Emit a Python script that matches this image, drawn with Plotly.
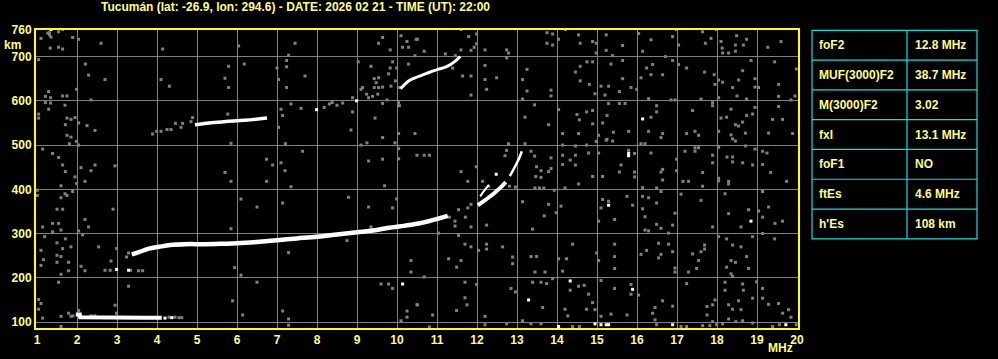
import plotly.graph_objects as go

# ---------------- data ----------------
title_text = "Tucumán (lat: -26.9, lon: 294.6) - DATE: 2026 02 21 - TIME (UT): 22:00"
x_ticks = list(range(1, 21))
y_ticks = [100, 200, 300, 400, 500, 600, 700, 760]

param_names = ["foF2", "MUF(3000)F2", "M(3000)F2", "fxI", "foF1", "ftEs", "h'Es"]
param_values = ["12.8 MHz", "38.7 MHz", "3.02", "13.1 MHz", "NO", "4.6 MHz", "108 km"]

# sporadic E trace
es_freq = [1.97, 2.07, 2.08, 2.6, 3.2, 3.7, 4.12]
es_height = [117, 117, 111, 110, 109, 110, 110]

# F-layer ordinary trace
fo_freq = [3.37, 3.55, 3.8, 4.05, 4.33, 4.7, 5.2, 5.65, 6.0, 6.5, 7.0, 7.5, 8.0,
           8.5, 9.0, 9.4, 9.8, 10.2, 10.6, 11.0, 11.27]
fo_height = [253, 258, 266, 270, 274, 276, 276, 277, 278, 281, 285, 289, 293,
             298, 303, 307, 313, 318, 324, 333, 340]

# cusp near foF2
cusp_freq = [12.02, 12.15, 12.3, 12.45, 12.6, 12.72]
cusp_height = [364, 372, 382, 393, 405, 416]

# thin extraordinary pieces
xthin_freq = [12.08, 12.18, 12.3]
xthin_height = [384, 397, 410]
xup_freq = [12.82, 12.9, 13.0, 13.08, 13.12]
xup_height = [430, 443, 460, 476, 486]

# second hop traces
m2_freq = [4.95, 5.3, 5.72, 6.2, 6.75]
m2_height = [546, 550, 553, 556, 561]
m2f_freq = [10.09, 10.28, 10.45, 10.66, 10.8, 10.99, 11.24, 11.45, 11.58]
m2f_height = [627, 644, 652, 659, 664, 670, 677, 689, 700]

# gray background echoes (freq MHz, height km)
noise_gray = [
    (1.31,754),(1.27,753),(1.31,749),(1.10,741),(1.35,744),(1.54,756),(1.64,761),(1.89,743),
    (2.04,739),(1.33,719),(1.54,721),(1.64,717),(2.60,730),(4.14,717),(1.04,693),(2.21,683),
    (2.29,658),(2.70,648),(4.10,648),(4.31,633),(1.99,626),(1.29,621),(1.21,610),(1.34,607),
    (1.64,611),(1.75,611),(2.35,602),(1.21,596),(1.34,595),(1.70,590),(1.04,570),(1.04,561),
    (1.29,581),(1.75,561),(1.85,558),(1.95,562),(2.04,550),(1.71,546),(2.25,544),(2.45,533),
    (1.75,522),(1.85,518),(1.99,508),(1.81,503),(2.04,500),(1.14,491),(1.39,481),(1.54,472),
    (1.64,455),(2.10,449),(2.35,442),(2.45,455),(2.95,453),(1.71,440),(1.95,428),(2.20,418),
    (1.99,413),(1.60,408),(1.01,398),(1.01,386),(1.89,395),(1.70,390),(1.75,386),(1.60,381),
    (1.50,355),(1.64,355),(2.90,355),(2.20,332),(1.14,315),(1.39,323),(1.54,323),(2.29,315),
    (1.60,308),(2.04,306),(2.14,297),(1.19,293),(1.39,304),(1.71,288),(1.50,279),(1.64,266),
    (1.85,270),(2.54,270),(1.10,262),(1.50,251),(1.60,248),(1.16,241),(1.10,228),(1.50,235),
    (1.79,235),(2.10,226),(1.79,216),(2.20,216),(1.60,208),(2.70,217),(2.83,217),(2.85,238),
    (2.99,266),(3.24,247),(3.29,256),(3.34,217),(3.54,216),(3.64,216),(1.54,190),(3.29,181),
    (2.95,138),(2.99,120),(1.04,151),(1.10,142),(1.04,129),(1.14,109),(1.60,113),(1.79,120),
    (2.04,126),(1.60,90),
    (4.89,562),(4.85,553),(4.64,549),(4.46,549),(4.60,540),(4.35,535),(4.25,535),(4.10,531),
    (3.99,531),(3.89,525),(5.70,651),(5.77,570),(5.70,438),
    (1.85,113),(1.90,114),(2.35,114),(2.45,114),(4.30,111),(4.45,111),(4.55,110),(4.62,110),
    (6.04,724),(7.45,730),(7.29,703),(7.24,691),(7.24,677),(7.00,674),(7.04,648),(7.70,656),
    (7.24,630),(5.79,630),(5.79,678),(6.18,683),(9.03,688),(9.35,678),(9.64,743),(9.54,730),
    (9.83,715),(10.10,747),(10.25,734),(10.14,721),(10.29,721),(10.48,739),(10.45,702),
    (9.89,688),(9.83,674),(9.99,674),(9.79,661),(10.29,683),(9.43,650),(9.54,652),(9.48,641),
    (9.64,631),(9.54,630),(9.43,630),(9.14,630),(9.10,626),(9.24,615),(9.39,610),(9.29,607),
    (9.52,615),(9.75,602),(9.85,633),(10.06,630),(10.04,596),(10.06,589),(9.64,594),(9.96,645),
    (8.89,607),(8.64,595),(8.50,590),(8.38,596),(8.31,593),(8.18,585),(7.60,583),(7.35,593),
    (7.10,581),(7.14,567),(8.89,575),(7.04,540),(7.21,503),(7.64,486),(6.74,468),(6.89,455),
    (7.10,460),(7.20,442),(6.74,418),(5.85,418),(7.35,406),(8.85,534),(9.45,561),(9.64,517),
    (10.04,526),(10.45,526),(10.04,492),(10.04,469),(9.64,468),(9.29,464),(9.10,500),
    (9.25,505),(9.95,505),(10.50,477),(5.85,504),(6.10,378),(6.50,360),(7.14,369),(8.79,382),
    (9.29,360),(9.89,358),(9.99,378),(9.69,408),(5.85,311),(9.35,315),(7.29,257),(5.94,223),
    (6.10,206),(6.50,190),(8.75,284),(10.35,239),(10.35,213),(9.60,186),(9.79,186),(9.89,176),
    (5.89,148),(6.14,116),(7.14,125),(7.29,107),(7.29,93),(10.10,103),(10.25,111),(10.25,125),
    (10.50,139),
    (11.60,761),(11.79,745),(11.99,751),(11.99,729),(11.93,721),(11.85,714),(11.60,715),
    (11.46,702),(11.21,706),(10.68,712),(10.51,739),(12.20,715),(12.20,680),(12.49,652),
    (12.20,648),(12.24,626),(11.85,656),(11.85,613),(11.64,656),(11.39,674),(12.74,715),
    (12.79,708),(12.74,697),(13.75,754),(13.89,751),(13.89,726),(13.75,730),(14.04,739),
    (14.21,761),(14.54,749),(14.58,730),(14.89,734),(14.98,730),(15.23,749),(14.98,708),
    (15.23,714),(14.75,688),(14.89,688),(14.58,678),(14.46,665),(14.58,645),(14.81,637),
    (15.10,633),(14.95,616),(15.20,613),(13.25,671),(13.14,648),(13.25,622),(13.14,604),
    (13.85,624),(13.85,611),(13.44,591),(14.04,580),(14.50,569),(14.89,578),(14.74,575),
    (14.56,557),(13.20,563),(13.79,546),(14.14,526),(14.54,526),(14.89,548),(15.14,550),
    (15.04,522),(15.23,511),(14.98,508),(14.14,500),(14.46,498),(14.74,500),(14.46,477),
    (14.79,482),(15.04,482),(13.85,471),(14.14,477),(14.33,466),(14.14,456),(14.46,455),
    (13.85,447),(13.49,451),(13.60,442),(13.79,440),(13.35,486),(13.44,475),(12.79,503),
    (12.74,488),(12.70,476),(13.20,503),(13.47,429),(13.60,427),(13.45,403),(13.56,403),
    (13.67,403),(13.93,398),(14.20,403),(14.54,412),(14.89,429),(15.14,429),(13.79,366),
    (14.10,362),(13.98,347),(15.10,358),(15.14,377),(15.04,328),(13.68,340),(13.39,310),
    (13.14,372),(12.96,405),(12.29,407),(12.14,418),(12.81,407),(11.98,451),(11.60,440),
    (11.77,418),(11.54,354),(11.45,328),(11.45,317),(11.31,337),(11.71,337),(11.85,366),
    (11.77,358),(11.04,301),(11.54,296),(11.85,315),(12.24,319),(10.68,477),(10.81,477),
    (11.60,239),(11.49,224),(11.70,276),(11.85,270),(12.04,262),(12.24,276),(12.24,265),
    (12.64,270),(12.89,247),(12.89,232),(13.35,248),(13.49,248),(13.45,213),(13.70,213),
    (14.04,243),(14.14,215),(14.39,276),(14.24,243),(15.04,239),(14.99,256),(10.68,202),
    (11.29,243),(11.70,190),(11.99,185),(11.70,155),(11.75,139),(11.49,126),(10.89,116),
    (10.51,139),(12.20,113),(12.85,176),(12.96,168),(13.39,190),(13.60,190),(13.74,187),
    (13.64,133),(13.89,198),(14.33,172),(14.54,181),(14.68,183),(14.79,163),(14.89,144),
    (15.10,194),(14.20,129),(14.27,114),(14.74,129),(14.95,128),(15.10,113),(13.14,103),
    (13.35,96),(13.60,96),(14.39,90),(14.56,90),(10.81,89),(12.20,94),(12.74,96),
    (16.04,752),(16.35,738),(16.89,745),(17.04,726),(16.99,761),(17.64,756),(17.85,741),
    (17.71,730),(17.99,761),(18.10,734),(18.13,719),(18.14,708),(18.29,708),(18.46,726),
    (18.49,747),(18.66,726),(18.74,739),(18.46,712),(19.27,721),(19.60,734),(15.64,725),
    (15.39,702),(16.14,712),(16.71,700),(16.89,691),(17.04,682),(17.24,674),(16.35,659),
    (16.39,682),(16.24,674),(16.10,652),(16.64,659),(15.64,691),(15.35,683),(15.64,650),
    (15.29,633),(15.85,630),(15.56,621),(15.99,626),(16.29,605),(16.85,602),(16.95,602),
    (17.60,604),(17.69,665),(17.93,659),(17.95,637),(18.04,647),(18.04,607),(18.14,642),
    (18.39,630),(18.54,647),(18.64,668),(18.74,604),(18.85,691),(18.95,650),(18.95,631),
    (19.04,630),(18.50,611),(19.44,688),(19.54,637),(19.54,610),(19.95,611),(19.85,602),
    (19.98,672),(15.29,594),(15.56,594),(15.70,594),(16.49,589),(16.49,575),(16.35,563),
    (17.39,578),(17.89,596),(17.89,589),(18.10,561),(18.24,563),(18.35,581),(18.46,546),
    (18.54,543),(18.64,552),(18.74,567),(18.89,570),(18.95,585),(19.39,558),(19.54,587),
    (19.64,558),(15.41,529),(15.39,509),(15.79,531),(16.29,531),(16.64,526),(16.60,517),
    (17.24,526),(17.45,531),(17.54,522),(18.04,531),(18.35,523),(18.39,514),(18.46,509),
    (18.71,527),(19.29,527),(19.89,526),(15.25,567),(15.25,513),(16.10,503),(16.20,503),
    (15.79,488),(15.94,481),(16.35,482),(17.20,486),(17.45,494),(17.54,494),(17.45,486),
    (16.99,468),(17.89,477),(17.89,460),(18.04,495),(18.25,473),(18.39,473),(18.39,462),
    (18.64,460),(18.71,498),(18.95,491),(19.14,486),(19.25,482),(19.14,456),(18.89,455),
    (19.34,438),(15.60,455),(15.56,439),(15.94,439),(15.94,428),(16.64,445),(16.60,439),
    (16.99,442),(17.64,438),(16.64,421),(17.15,418),(17.29,418),(17.64,407),(18.04,425),
    (18.04,419),(18.29,418),(18.29,412),(19.74,418),(15.29,373),(15.75,384),(15.89,364),
    (16.14,404),(16.49,403),(16.60,395),(16.14,384),(16.29,381),(16.49,369),(16.14,356),
    (16.20,338),(16.95,346),(17.10,389),(17.60,375),(18.20,390),(18.29,345),(18.79,354),
    (19.04,351),(19.14,395),(19.29,360),(19.14,337),(19.64,328),(19.45,323),(18.60,315),
    (17.89,315),(16.89,319),(16.79,301),(16.49,321),(16.60,312),(16.20,308),(16.29,306),
    (15.44,332),(15.44,276),(15.44,248),(15.44,221),(16.10,253),(16.24,262),(16.54,278),
    (16.60,253),(16.54,245),(16.79,276),(16.89,259),(16.95,222),(16.95,213),(17.29,213),
    (17.39,254),(17.54,239),(17.60,259),(17.69,274),(17.69,265),(17.49,221),(18.04,293),
    (18.24,288),(18.39,274),(18.60,270),(18.35,239),(18.46,235),(18.24,224),(18.74,248),
    (18.79,221),(18.35,209),(18.39,203),(18.89,293),(19.14,300),(19.44,288),(18.99,191),
    (19.14,176),(19.14,154),(19.29,140),(19.54,142),(19.64,120),(19.79,128),(19.85,111),
    (18.89,154),(18.66,172),(18.64,186),(18.54,148),(18.60,128),(18.39,129),(18.29,139),
    (18.20,172),(18.20,190),(17.95,150),(17.89,139),(17.75,135),(17.75,116),(17.89,101),
    (17.24,187),(16.89,136),(16.64,148),(16.45,133),(16.39,120),(16.45,105),(16.49,94),
    (16.04,161),(15.85,185),(15.85,163),(15.44,176),(15.35,118),(15.75,116),(17.10,90),
    (17.24,90),(17.64,92),(17.82,92),(17.99,94),(18.14,96),(18.29,107),(18.47,101),
    (18.64,103),(18.89,98),(19.39,90),(19.56,94),(19.98,94),
]

# isolated white echoes (freq MHz, height km)
noise_white = [
    (1.35,761),(2.99,219),(3.29,217),(4.20,109),(4.37,110),(8.99,600),(7.99,580),(10.14,186),
    (13.29,150),(14.33,193),(14.04,90),(14.95,96),(15.10,94),(15.23,94),(16.14,559),
    (15.79,476),(15.79,481),(15.29,364),(18.85,328),(15.89,174),(15.29,94),(16.89,94),
    (19.72,94),(12.48,434),
]

# ---------------- style / layout helpers ----------------
W, H = 998, 359
PL, PR, PT, PB = 36, 798, 30, 333          # plot-area pixel box
YEL = "#ffff00"
TXT = "#ffff80"
GRAY = "#808080"
CYAN = "#10e0e0"


def px_x(px):
    return (px - PL) / (PR - PL)


def px_y(py):
    return (PB - py) / (PB - PT)


fig = go.Figure()

fig.add_trace(go.Scatter(
    x=[p[0] for p in noise_gray], y=[p[1] for p in noise_gray], mode="markers",
    marker=dict(symbol="square", size=3, color=GRAY, line=dict(width=0)),
    hoverinfo="skip"))

fig.add_trace(go.Scatter(
    x=[p[0] for p in noise_white], y=[p[1] for p in noise_white], mode="markers",
    marker=dict(symbol="square", size=3, color="white", line=dict(width=0)),
    hoverinfo="skip"))

for fx, hy, w, shp in [(es_freq, es_height, 4, "linear"), (fo_freq, fo_height, 4.5, "spline"),
                       (cusp_freq, cusp_height, 4, "spline"), (xthin_freq, xthin_height, 2, "spline"),
                       (xup_freq, xup_height, 2.5, "spline"), (m2_freq, m2_height, 3.5, "spline"),
                       (m2f_freq, m2f_height, 3, "spline")]:
    fig.add_trace(go.Scatter(x=fx, y=hy, mode="lines",
                             line=dict(color="white", width=w, shape=shp),
                             hoverinfo="skip"))

tick_font = dict(color=TXT, size=12, family="Arial", weight="bold")

fig.update_layout(
    width=W, height=H,
    margin=dict(l=PL, r=W - PR, t=PT, b=H - PB),
    paper_bgcolor="black", plot_bgcolor="black",
    showlegend=False,
)
fig.update_xaxes(range=[0.975, 20.025], tickvals=x_ticks, ticktext=[str(v) for v in x_ticks],
                 showgrid=True, gridcolor=GRAY, gridwidth=1, zeroline=False,
                 showline=True, mirror=True, linecolor=YEL, linewidth=2,
                 ticks="", tickfont=tick_font)
fig.update_yaxes(range=[86.6, 760], tickvals=y_ticks, ticktext=[str(v) for v in y_ticks],
                 showgrid=True, gridcolor=GRAY, gridwidth=1, zeroline=False,
                 showline=True, mirror=True, linecolor=YEL, linewidth=2,
                 ticks="", tickfont=tick_font)

annotations = [
    dict(text="<b>" + title_text + "</b>", x=px_x(295), y=px_y(7), xref="paper", yref="paper",
         xanchor="center", yanchor="middle", showarrow=False,
         font=dict(color=TXT, size=12, family="Arial")),
    dict(text="<b>km</b>", x=px_x(23), y=px_y(45), xref="paper", yref="paper",
         xanchor="right", yanchor="middle", showarrow=False,
         font=dict(color=TXT, size=12, family="Arial")),
    dict(text="<b>MHz</b>", x=px_x(780), y=px_y(353), xref="paper", yref="paper",
         xanchor="center", yanchor="middle", showarrow=False,
         font=dict(color=TXT, size=12, family="Arial")),
]

# parameter table
t_left, t_mid, t_right = 812, 907, 977
t_top, row_h = 30.3, 30.29
n = len(param_names)
shapes = [dict(type="rect", xref="paper", yref="paper",
               x0=px_x(t_left), x1=px_x(t_right), y0=px_y(t_top), y1=px_y(t_top + n * row_h),
               line=dict(color=CYAN, width=1.2), fillcolor="rgba(0,0,0,0)"),
          dict(type="line", xref="paper", yref="paper",
               x0=px_x(t_mid), x1=px_x(t_mid), y0=px_y(t_top), y1=px_y(t_top + n * row_h),
               line=dict(color=CYAN, width=1.2))]
for i in range(1, n):
    yy = px_y(t_top + i * row_h)
    shapes.append(dict(type="line", xref="paper", yref="paper",
                       x0=px_x(t_left), x1=px_x(t_right), y0=yy, y1=yy,
                       line=dict(color=CYAN, width=1.2)))
for i, (nm, val) in enumerate(zip(param_names, param_values)):
    yc = px_y(t_top + (i + 0.5) * row_h)
    annotations.append(dict(text="<b>" + nm + "</b>", x=px_x(817), y=yc, xref="paper", yref="paper",
                            xanchor="left", yanchor="middle", showarrow=False,
                            font=dict(color=TXT, size=12, family="Arial")))
    annotations.append(dict(text="<b>" + val + "</b>", x=px_x(913), y=yc, xref="paper", yref="paper",
                            xanchor="left", yanchor="middle", showarrow=False,
                            font=dict(color=TXT, size=12, family="Arial")))

fig.update_layout(annotations=annotations, shapes=shapes)

fig.write_html("out.html")
